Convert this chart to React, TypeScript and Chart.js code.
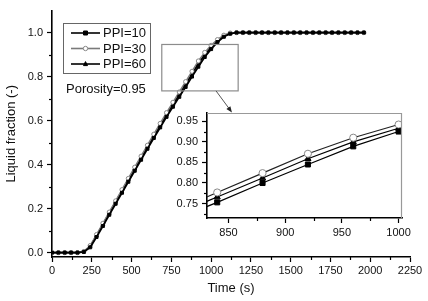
import React, { useEffect, useRef } from "react";
import { Chart, registerables } from "chart.js";

Chart.register(...registerables);

const TIME = [0, 40, 80, 120, 160, 200, 240, 280, 320, 360, 400, 440, 480, 520, 560, 600, 640, 680, 720, 760, 800, 840, 880, 920, 960, 1000, 1040, 1080, 1120, 1160, 1200, 1240, 1280, 1320, 1360, 1400, 1440, 1480, 1520, 1560, 1600, 1640, 1680, 1720, 1760, 1800, 1840, 1880, 1920, 1960];

const PPI10 = [0, 0, 0, 0, 0, 0.003, 0.024, 0.071, 0.121, 0.172, 0.222, 0.272, 0.322, 0.372, 0.422, 0.472, 0.521, 0.569, 0.617, 0.663, 0.708, 0.753, 0.8, 0.845, 0.889, 0.925, 0.957, 0.981, 0.995, 1, 1, 1, 1, 1, 1, 1, 1, 1, 1, 1, 1, 1, 1, 1, 1, 1, 1, 1, 1, 1];
const PPI30 = [0, 0, 0, 0, 0, 0.005, 0.032, 0.082, 0.133, 0.184, 0.235, 0.286, 0.337, 0.388, 0.438, 0.488, 0.538, 0.587, 0.636, 0.683, 0.73, 0.777, 0.824, 0.871, 0.91, 0.942, 0.968, 0.988, 0.998, 1, 1, 1, 1, 1, 1, 1, 1, 1, 1, 1, 1, 1, 1, 1, 1, 1, 1, 1, 1, 1];
const PPI60 = [0, 0, 0, 0, 0, 0.004, 0.028, 0.077, 0.128, 0.179, 0.23, 0.28, 0.331, 0.381, 0.431, 0.481, 0.53, 0.579, 0.627, 0.674, 0.72, 0.766, 0.812, 0.859, 0.9, 0.933, 0.963, 0.985, 0.997, 1, 1, 1, 1, 1, 1, 1, 1, 1, 1, 1, 1, 1, 1, 1, 1, 1, 1, 1, 1, 1];

const LABELS = ["PPI=10", "PPI=30", "PPI=60"];
const NOTE = "Porosity=0.95";

const X_TICKS = [0, 250, 500, 750, 1000, 1250, 1500, 1750, 2000, 2250];
const X_MINOR = [125, 375, 625, 875, 1125, 1375, 1625, 1875, 2125];
const Y_TICKS = [0, 0.2, 0.4, 0.6, 0.8, 1.0];
const Y_MINOR = [0.1, 0.3, 0.5, 0.7, 0.9];

const IN_X_TICKS = [850, 900, 950, 1000];
const IN_X_MINOR = [875, 925, 975];
const IN_Y_TICKS = [0.75, 0.8, 0.85, 0.9, 0.95];
const IN_Y_MINOR = [0.725, 0.775, 0.825, 0.875, 0.925];

// zoom box in main-chart data units
const ZOOM_BOX = { x0: 690, x1: 1170, y0: 0.735, y1: 0.946 };
const ARROW = { x0: 1031, y0: 0.735, x1: 1131, y1: 0.637 };

const FONT = "Arial, 'Liberation Sans', Helvetica, sans-serif";

const pts = (ys: number[]) => TIME.map((t, i) => ({ x: t, y: ys[i] }));

function minorTickPlugin(xm: number[], ym: number[]) {
  return {
    id: "minorTicks",
    afterDraw(chart: any) {
      const { ctx } = chart;
      const xs = chart.scales.x;
      const ys = chart.scales.y;
      ctx.save();
      ctx.strokeStyle = "#000";
      ctx.lineWidth = 1.2;
      xm.forEach((v) => {
        const px = Math.round(xs.getPixelForValue(v)) + 0.5;
        ctx.beginPath();
        ctx.moveTo(px, ys.bottom);
        ctx.lineTo(px, ys.bottom + 3);
        ctx.stroke();
      });
      ym.forEach((v) => {
        const py = Math.round(ys.getPixelForValue(v)) + 0.5;
        ctx.beginPath();
        ctx.moveTo(xs.left, py);
        ctx.lineTo(xs.left - 3, py);
        ctx.stroke();
      });
      ctx.restore();
    },
  };
}

function drawMarker(ctx: CanvasRenderingContext2D, kind: string, x: number, y: number, r: number, fill: string, stroke: string) {
  ctx.save();
  ctx.fillStyle = fill;
  ctx.strokeStyle = stroke;
  ctx.lineWidth = 1;
  ctx.beginPath();
  if (kind === "rect") {
    ctx.rect(x - r, y - r, 2 * r, 2 * r);
  } else if (kind === "triangle") {
    ctx.moveTo(x, y - r * 1.2);
    ctx.lineTo(x + r, y + r * 0.8);
    ctx.lineTo(x - r, y + r * 0.8);
    ctx.closePath();
  } else {
    ctx.arc(x, y, r, 0, Math.PI * 2);
  }
  ctx.fill();
  ctx.stroke();
  ctx.restore();
}

const decorPlugin = {
  id: "decor",
  afterDraw(chart: any) {
    const { ctx } = chart;
    const xs = chart.scales.x;
    const ys = chart.scales.y;
    ctx.save();
    // zoom box
    const bx0 = xs.getPixelForValue(ZOOM_BOX.x0);
    const bx1 = xs.getPixelForValue(ZOOM_BOX.x1);
    const by0 = ys.getPixelForValue(ZOOM_BOX.y0);
    const by1 = ys.getPixelForValue(ZOOM_BOX.y1);
    ctx.strokeStyle = "#8c8c8c";
    ctx.lineWidth = 1.2;
    ctx.strokeRect(bx0, by1, bx1 - bx0, by0 - by1);
    // arrow
    const ax0 = xs.getPixelForValue(ARROW.x0);
    const ay0 = ys.getPixelForValue(ARROW.y0);
    const ax1 = xs.getPixelForValue(ARROW.x1);
    const ay1 = ys.getPixelForValue(ARROW.y1);
    const ang = Math.atan2(ay1 - ay0, ax1 - ax0);
    ctx.strokeStyle = "#555";
    ctx.lineWidth = 1;
    ctx.beginPath();
    ctx.moveTo(ax0, ay0);
    ctx.lineTo(ax1 - 4 * Math.cos(ang), ay1 - 4 * Math.sin(ang));
    ctx.stroke();
    ctx.fillStyle = "#222";
    ctx.beginPath();
    ctx.moveTo(ax1, ay1);
    ctx.lineTo(ax1 - 6 * Math.cos(ang) + 2.5 * Math.sin(ang), ay1 - 6 * Math.sin(ang) - 2.5 * Math.cos(ang));
    ctx.lineTo(ax1 - 6 * Math.cos(ang) - 2.5 * Math.sin(ang), ay1 - 6 * Math.sin(ang) + 2.5 * Math.cos(ang));
    ctx.closePath();
    ctx.fill();

    // legend
    const lx = 63.5, ly = 23.5, lw = 87, lh = 50;
    ctx.strokeStyle = "#666";
    ctx.lineWidth = 1;
    ctx.strokeRect(lx, ly, lw, lh);
    ctx.font = `13px ${FONT}`;
    ctx.textBaseline = "middle";
    ctx.textAlign = "left";
    chart.data.datasets.forEach((ds: any, i: number) => {
      const y = 33 + i * 15.5;
      ctx.strokeStyle = ds.borderColor;
      ctx.lineWidth = 1.6;
      ctx.beginPath();
      ctx.moveTo(71, y);
      ctx.lineTo(100, y);
      ctx.stroke();
      drawMarker(ctx, ds.pointStyle, 85.5, y, ds.pointStyle === "circle" ? 2.2 : 2, ds.pointBackgroundColor, ds.pointBorderColor);
      ctx.fillStyle = "#111";
      ctx.fillText(ds.label, 103, y + 0.5);
    });
    ctx.fillStyle = "#111";
    ctx.fillText(NOTE, 66, 89);
    ctx.restore();
  },
};

const insetFrame = {
  id: "insetFrame",
  beforeDraw(chart: any) {
    const { ctx, chartArea: a } = chart;
    ctx.save();
    ctx.fillStyle = "#fff";
    ctx.fillRect(a.left, a.top, a.right - a.left, a.bottom - a.top);
    ctx.restore();
  },
  afterDraw(chart: any) {
    const { ctx, chartArea: a } = chart;
    ctx.save();
    ctx.strokeStyle = "#999";
    ctx.lineWidth = 1.2;
    ctx.beginPath();
    ctx.moveTo(a.left, a.top + 0.5);
    ctx.lineTo(a.right - 0.5, a.top + 0.5);
    ctx.lineTo(a.right - 0.5, a.bottom);
    ctx.stroke();
    ctx.restore();
  },
};

function makeDatasets(inset: boolean) {
  const big = inset ? 1.7 : 1;
  return [
    {
      label: LABELS[0],
      data: pts(PPI10),
      borderColor: "#000",
      backgroundColor: "#000",
      pointBackgroundColor: "#000",
      pointBorderColor: "#000",
      pointStyle: "rect",
      pointRadius: 2.1 * big,
      pointBorderWidth: 1,
      borderWidth: inset ? 1.2 : 1.8,
    },
    {
      label: LABELS[1],
      data: pts(PPI30),
      borderColor: inset ? "#222" : "#7a7a7a",
      backgroundColor: "#fff",
      pointBackgroundColor: "#fff",
      pointBorderColor: "#888",
      pointStyle: "circle",
      pointRadius: 2.1 * big,
      pointBorderWidth: 1,
      borderWidth: inset ? 1.2 : 1.5,
    },
    {
      label: LABELS[2],
      data: pts(PPI60),
      borderColor: "#000",
      backgroundColor: "#000",
      pointBackgroundColor: "#000",
      pointBorderColor: "#000",
      pointStyle: "triangle",
      pointRadius: 2.1 * big,
      pointBorderWidth: 1,
      borderWidth: inset ? 1.2 : 1.8,
    },
  ];
}

function axis(extra: any) {
  return {
    type: "linear",
    grid: { display: true, drawOnChartArea: false, drawTicks: true, tickLength: 5, tickColor: "#000", tickWidth: 1.2 },
    border: { display: true, color: "#000", width: 1.6 },
    ...extra,
  };
}

export default function App() {
  const mainRef = useRef<HTMLCanvasElement>(null);
  const insetRef = useRef<HTMLCanvasElement>(null);

  useEffect(() => {
    const tickFont = { family: FONT, size: 11 };
    const main = new Chart(mainRef.current as HTMLCanvasElement, {
      type: "line",
      data: { datasets: makeDatasets(false) as any },
      options: {
        animation: false,
        responsive: false,
        devicePixelRatio: 1,
        layout: { padding: { top: 6, right: 18, left: 0, bottom: 0 } },
        plugins: { legend: { display: false }, tooltip: { enabled: false } },
        scales: {
          x: axis({
            min: 0,
            max: 2250,
            afterBuildTicks: (s: any) => { s.ticks = X_TICKS.map((v) => ({ value: v })); },
            afterFit: (s: any) => { s.height = 44; },
            ticks: { font: tickFont, color: "#111", padding: 2, maxRotation: 0, autoSkip: false, callback: (v: any) => String(v) },
            title: { display: true, text: "Time (s)", font: { family: FONT, size: 13 }, color: "#111", padding: { top: 0, bottom: 5 } },
          }),
          y: axis({
            min: -0.02,
            max: 1.1,
            afterBuildTicks: (s: any) => { s.ticks = Y_TICKS.map((v) => ({ value: v })); },
            afterFit: (s: any) => { s.width = 52; },
            ticks: { font: tickFont, color: "#111", padding: 4, autoSkip: false, callback: (v: any) => Number(v).toFixed(1) },
            title: { display: true, text: "Liquid fraction (-)", font: { family: FONT, size: 13 }, color: "#111", padding: { top: 4, bottom: 0 } },
          }),
        },
      } as any,
      plugins: [minorTickPlugin(X_MINOR, Y_MINOR), decorPlugin],
    });

    const inset = new Chart(insetRef.current as HTMLCanvasElement, {
      type: "line",
      data: { datasets: makeDatasets(true) as any },
      options: {
        animation: false,
        responsive: false,
        devicePixelRatio: 1,
        layout: { padding: { top: 113, right: 26, left: 170, bottom: 0 } },
        plugins: { legend: { display: false }, tooltip: { enabled: false } },
        scales: {
          x: axis({
            min: 831,
            max: 1003,
            afterBuildTicks: (s: any) => { s.ticks = IN_X_TICKS.map((v) => ({ value: v })); },
            afterFit: (s: any) => { s.height = 83; },
            ticks: { font: tickFont, color: "#111", padding: 3, maxRotation: 0, autoSkip: false, callback: (v: any) => String(v) },
          }),
          y: axis({
            min: 0.715,
            max: 0.97,
            afterBuildTicks: (s: any) => { s.ticks = IN_Y_TICKS.map((v) => ({ value: v })); },
            afterFit: (s: any) => { s.width = 37; },
            ticks: { font: tickFont, color: "#111", padding: 4, autoSkip: false, callback: (v: any) => Number(v).toFixed(2) },
          }),
        },
      } as any,
      plugins: [insetFrame, minorTickPlugin(IN_X_MINOR, IN_Y_MINOR)],
    });

    return () => {
      main.destroy();
      inset.destroy();
    };
  }, []);

  return (
    <div style={{ position: "absolute", left: 0, top: 0, width: 428, height: 301, background: "#fff" }}>
      <canvas ref={mainRef} width={428} height={301} style={{ position: "absolute", left: 0, top: 0 }} />
      <canvas ref={insetRef} width={428} height={301} style={{ position: "absolute", left: 0, top: 0 }} />
    </div>
  );
}
